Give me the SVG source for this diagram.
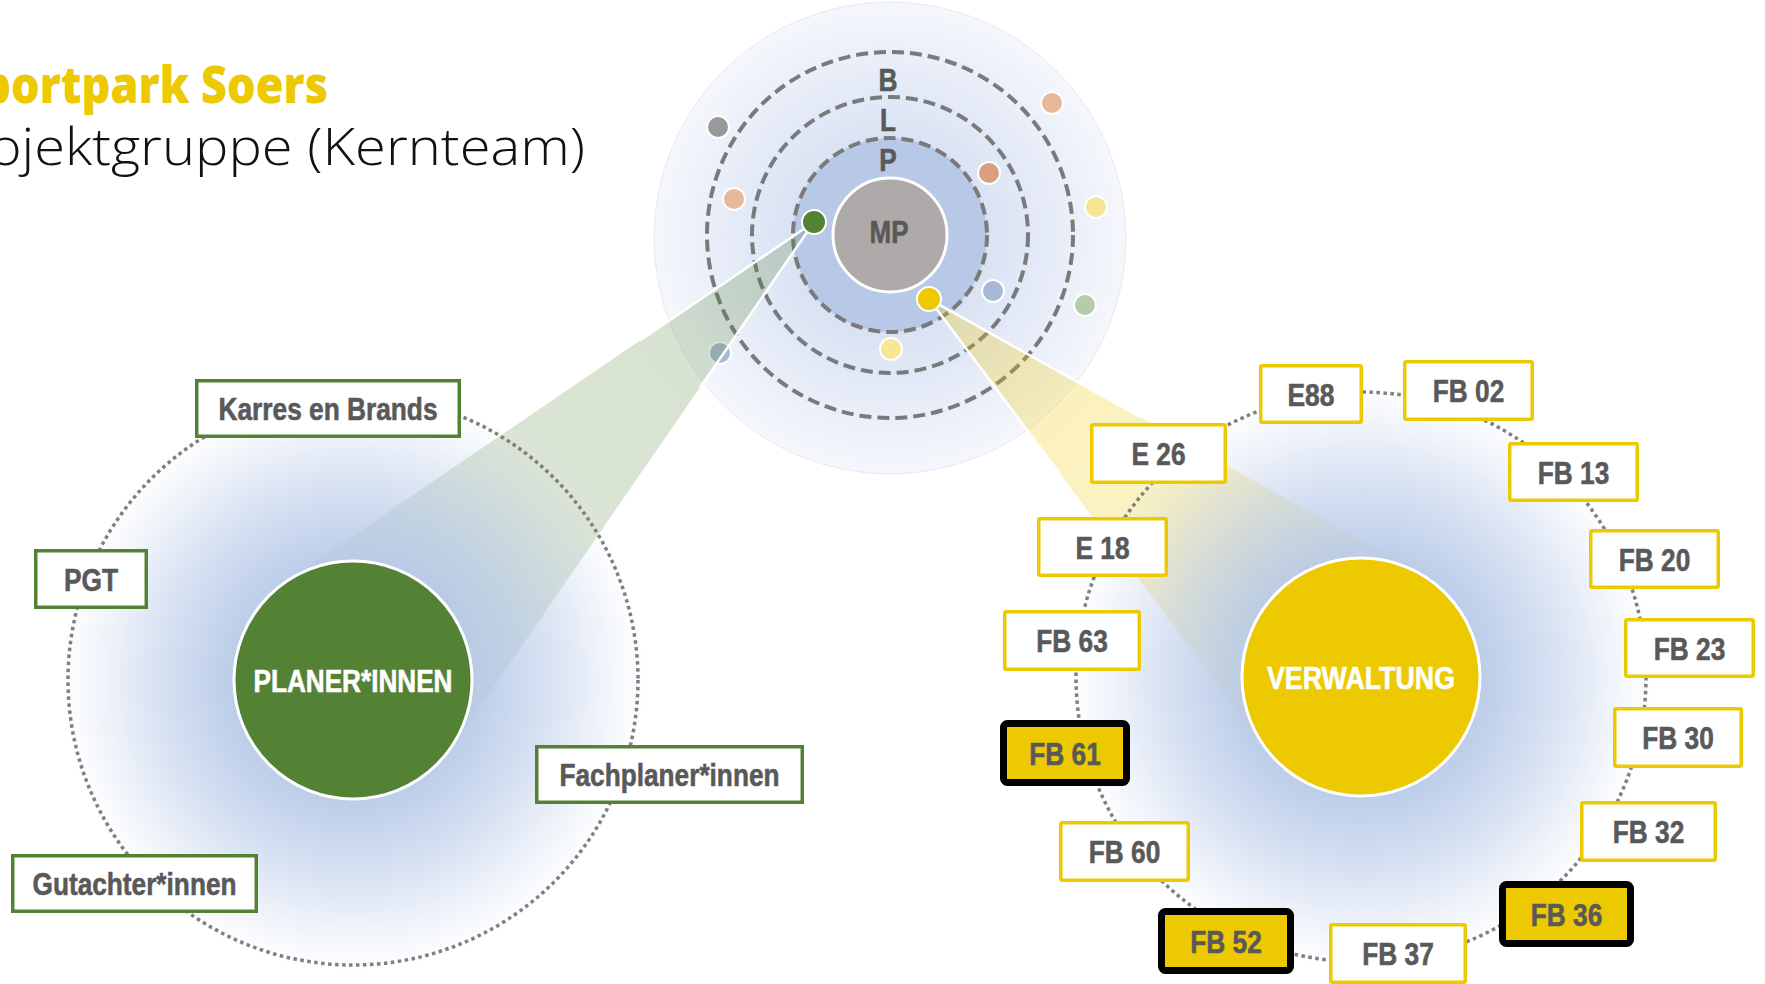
<svg xmlns="http://www.w3.org/2000/svg" width="1765" height="984" viewBox="0 0 1765 984">
<style>
.lbl{font-family:"Liberation Sans Narrow","Arial Narrow","Liberation Sans",sans-serif;font-weight:bold;font-size:32px;fill:#595959;stroke:#595959;stroke-width:0.6;text-anchor:middle}
.wlbl{font-family:"Liberation Sans Narrow","Arial Narrow","Liberation Sans",sans-serif;font-weight:bold;font-size:32px;fill:#ffffff;stroke:#ffffff;stroke-width:0.6;text-anchor:middle}
.gbox{fill:#ffffff;stroke:#548235;stroke-width:3.5}
.ybox{fill:#ffffff;stroke:#ecc900;stroke-width:3.5}
.hbox{fill:#ecc900;stroke:#000000;stroke-width:7}
.ring{fill:none;stroke:#7f7f7f;stroke-width:3.5;stroke-dasharray:3.5 3.5}
.orbit{fill:none;stroke:#7a7a7a;stroke-width:4;stroke-dasharray:12 6}
.dot{stroke:#ffffff;stroke-width:2}
</style>
<defs>
<radialGradient id="glow">
<stop offset="0.4" stop-color="#b4c7e7" stop-opacity="0.9"/>
<stop offset="0.62" stop-color="#b4c7e7" stop-opacity="0.6"/>
<stop offset="0.85" stop-color="#b4c7e7" stop-opacity="0.22"/>
<stop offset="1" stop-color="#b4c7e7" stop-opacity="0"/>
</radialGradient>
<radialGradient id="atomglow">
<stop offset="0.4" stop-color="#d9e2f3"/>
<stop offset="0.75" stop-color="#e9eef8"/>
<stop offset="1" stop-color="#f5f7fc"/>
</radialGradient>
<linearGradient id="gcone" gradientUnits="userSpaceOnUse" x1="814" y1="222" x2="353" y2="680">
<stop offset="0" stop-color="#548235" stop-opacity="0.25"/>
<stop offset="1" stop-color="#548235" stop-opacity="0.18"/>
</linearGradient>
<linearGradient id="ycone" gradientUnits="userSpaceOnUse" x1="929" y1="299" x2="1361" y2="677">
<stop offset="0" stop-color="#ecc900" stop-opacity="0.28"/>
<stop offset="1" stop-color="#ecc900" stop-opacity="0.2"/>
</linearGradient>
</defs>
<rect width="1765" height="984" fill="#ffffff"/>

<g id="title">
<text x="-44" y="103" textLength="372" lengthAdjust="spacingAndGlyphs" font-family="'Open Sans','Noto Sans',sans-serif" font-weight="800" font-size="51" fill="#ecc900">Sportpark Soers</text>
<text x="-66" y="165" textLength="651" lengthAdjust="spacingAndGlyphs" font-family="'Open Sans','Noto Sans',sans-serif" font-weight="300" font-size="52" fill="#111111">Projektgruppe (Kernteam)</text>
</g>

<g id="atom">
<circle cx="890" cy="238" r="236" fill="url(#atomglow)" stroke="#e6e9f1" stroke-width="1"/>
<circle cx="890" cy="235" r="97" fill="#b8c9e8"/>
<circle class="orbit" cx="890" cy="235" r="97"/>
<circle class="orbit" cx="890" cy="235" r="138"/>
<circle class="orbit" cx="890" cy="235" r="183"/>
<circle cx="890" cy="235" r="57" fill="#aeaaaa" stroke="#ffffff" stroke-width="3"/>
<text class="lbl" x="889" y="243" textLength="39" lengthAdjust="spacingAndGlyphs">MP</text>
<text class="lbl" x="888" y="91" textLength="19" lengthAdjust="spacingAndGlyphs">B</text>
<text class="lbl" x="888" y="131" textLength="16" lengthAdjust="spacingAndGlyphs">L</text>
<text class="lbl" x="888" y="171" textLength="17.5" lengthAdjust="spacingAndGlyphs">P</text>
<circle class="dot" cx="718" cy="127" r="11" fill="#999999"/>
<circle class="dot" cx="1052" cy="103" r="11" fill="#e6b99a"/>
<circle class="dot" cx="734" cy="199" r="11" fill="#e6b99a"/>
<circle class="dot" cx="989" cy="173" r="11" fill="#d9a080"/>
<circle class="dot" cx="1096" cy="207" r="11" fill="#f6e797"/>
<circle class="dot" cx="993" cy="291" r="11" fill="#a8b9d6"/>
<circle class="dot" cx="1085" cy="305" r="11" fill="#b6cba9"/>
<circle class="dot" cx="891" cy="349" r="11" fill="#f6e797"/>
<circle class="dot" cx="720" cy="353" r="11" fill="#a8b9d6"/>
</g>

<g id="connectors">
<polygon points="814,222 286,581.6 451.4,747.9" fill="url(#gcone)"/>
<polygon points="929,299 1419.2,573.1 1265.7,748.5" fill="url(#ycone)"/>
<line x1="814" y1="222" x2="640" y2="340.5" stroke="#ffffff" stroke-width="2.5"/>
<line x1="814" y1="222" x2="700" y2="387.5" stroke="#ffffff" stroke-width="2.5"/>
<line x1="929" y1="299" x2="1140" y2="417" stroke="#ffffff" stroke-width="2.5"/>
<line x1="929" y1="299" x2="1060" y2="474" stroke="#ffffff" stroke-width="2.5"/>
</g>

<g id="glows">
<circle cx="353" cy="680" r="292" fill="url(#glow)"/>
<circle cx="1361" cy="677" r="292" fill="url(#glow)"/>
</g>

<g id="rings">
<circle class="ring" cx="353" cy="680" r="285"/>
<circle class="ring" cx="1361" cy="677" r="285"/>
</g>

<g id="dot-planer"><circle class="dot" cx="814" cy="222" r="12" fill="#548235" stroke-width="2.5"/></g>
<g id="dot-verwaltung"><circle class="dot" cx="929" cy="299" r="12" fill="#ecc900" stroke-width="2.5"/></g>

<g id="planer">
<circle cx="353" cy="680" r="119" fill="#548235" stroke="#ffffff" stroke-width="3"/>
<text class="wlbl" x="353" y="692" textLength="199" lengthAdjust="spacingAndGlyphs">PLANER*INNEN</text>
</g>
<g id="verwaltung">
<circle cx="1361" cy="677" r="119" fill="#ecc900" stroke="#ffffff" stroke-width="3"/>
<text class="wlbl" x="1361" y="689" textLength="188" lengthAdjust="spacingAndGlyphs">VERWALTUNG</text>
</g>

<g id="karres"><rect class="gbox" x="196.75" y="380.75" width="262.5" height="55.5"/><text class="lbl" x="328" y="420" textLength="219" lengthAdjust="spacingAndGlyphs">Karres en Brands</text></g>
<g id="pgt"><rect class="gbox" x="35.75" y="550.75" width="110.5" height="56.5"/><text class="lbl" x="91" y="590.5" textLength="54" lengthAdjust="spacingAndGlyphs">PGT</text></g>
<g id="fachplaner"><rect class="gbox" x="536.75" y="746.75" width="265.5" height="55.5"/><text class="lbl" x="669.5" y="786" textLength="220" lengthAdjust="spacingAndGlyphs">Fachplaner*innen</text></g>
<g id="gutachter"><rect class="gbox" x="12.75" y="855.75" width="243.5" height="55.5"/><text class="lbl" x="134.5" y="895" textLength="204" lengthAdjust="spacingAndGlyphs">Gutachter*innen</text></g>

<g id="e88"><rect class="ybox" x="1260.75" y="365.75" width="100.5" height="56.5" rx="1.5"/><text class="lbl" x="1311" y="405.5" textLength="47" lengthAdjust="spacingAndGlyphs">E88</text></g>
<g id="fb02"><rect class="ybox" x="1404.75" y="361.75" width="127.5" height="57.5" rx="1.5"/><text class="lbl" x="1468.5" y="402" textLength="71.5" lengthAdjust="spacingAndGlyphs">FB 02</text></g>
<g id="e26"><rect class="ybox" x="1091.75" y="424.75" width="133.5" height="57.5" rx="1.5"/><text class="lbl" x="1158.5" y="465" textLength="54" lengthAdjust="spacingAndGlyphs">E 26</text></g>
<g id="fb13"><rect class="ybox" x="1509.75" y="443.75" width="127.5" height="56.5" rx="1.5"/><text class="lbl" x="1573.5" y="483.5" textLength="71.5" lengthAdjust="spacingAndGlyphs">FB 13</text></g>
<g id="e18"><rect class="ybox" x="1038.75" y="518.75" width="127.5" height="56.5" rx="1.5"/><text class="lbl" x="1102.5" y="558.5" textLength="54" lengthAdjust="spacingAndGlyphs">E 18</text></g>
<g id="fb20"><rect class="ybox" x="1590.75" y="530.75" width="127.5" height="56.5" rx="1.5"/><text class="lbl" x="1654.5" y="570.5" textLength="71.5" lengthAdjust="spacingAndGlyphs">FB 20</text></g>
<g id="fb63"><rect class="ybox" x="1004.75" y="611.75" width="134.5" height="57.5" rx="1.5"/><text class="lbl" x="1072" y="652" textLength="71.5" lengthAdjust="spacingAndGlyphs">FB 63</text></g>
<g id="fb23"><rect class="ybox" x="1625.75" y="619.75" width="127.5" height="56.5" rx="1.5"/><text class="lbl" x="1689.5" y="659.5" textLength="71.5" lengthAdjust="spacingAndGlyphs">FB 23</text></g>
<g id="fb61"><rect class="hbox" x="1003.5" y="723.5" width="123" height="59" rx="4"/><text class="lbl" x="1065" y="764.5" textLength="71.5" lengthAdjust="spacingAndGlyphs">FB 61</text></g>
<g id="fb30"><rect class="ybox" x="1614.75" y="708.75" width="126.5" height="57.5" rx="1.5"/><text class="lbl" x="1678" y="749" textLength="71.5" lengthAdjust="spacingAndGlyphs">FB 30</text></g>
<g id="fb60"><rect class="ybox" x="1060.75" y="822.75" width="127.5" height="57.5" rx="1.5"/><text class="lbl" x="1124.5" y="863" textLength="71.5" lengthAdjust="spacingAndGlyphs">FB 60</text></g>
<g id="fb32"><rect class="ybox" x="1581.75" y="802.75" width="133.5" height="57.5" rx="1.5"/><text class="lbl" x="1648.5" y="843" textLength="71.5" lengthAdjust="spacingAndGlyphs">FB 32</text></g>
<g id="fb52"><rect class="hbox" x="1161.5" y="911.5" width="129" height="59" rx="4"/><text class="lbl" x="1226" y="952.5" textLength="71.5" lengthAdjust="spacingAndGlyphs">FB 52</text></g>
<g id="fb36"><rect class="hbox" x="1502.5" y="884.5" width="128" height="59" rx="4"/><text class="lbl" x="1566.5" y="925.5" textLength="71.5" lengthAdjust="spacingAndGlyphs">FB 36</text></g>
<g id="fb37"><rect class="ybox" x="1330.75" y="924.75" width="134.5" height="57.5" rx="1.5"/><text class="lbl" x="1398" y="965" textLength="71.5" lengthAdjust="spacingAndGlyphs">FB 37</text></g>
</svg>
